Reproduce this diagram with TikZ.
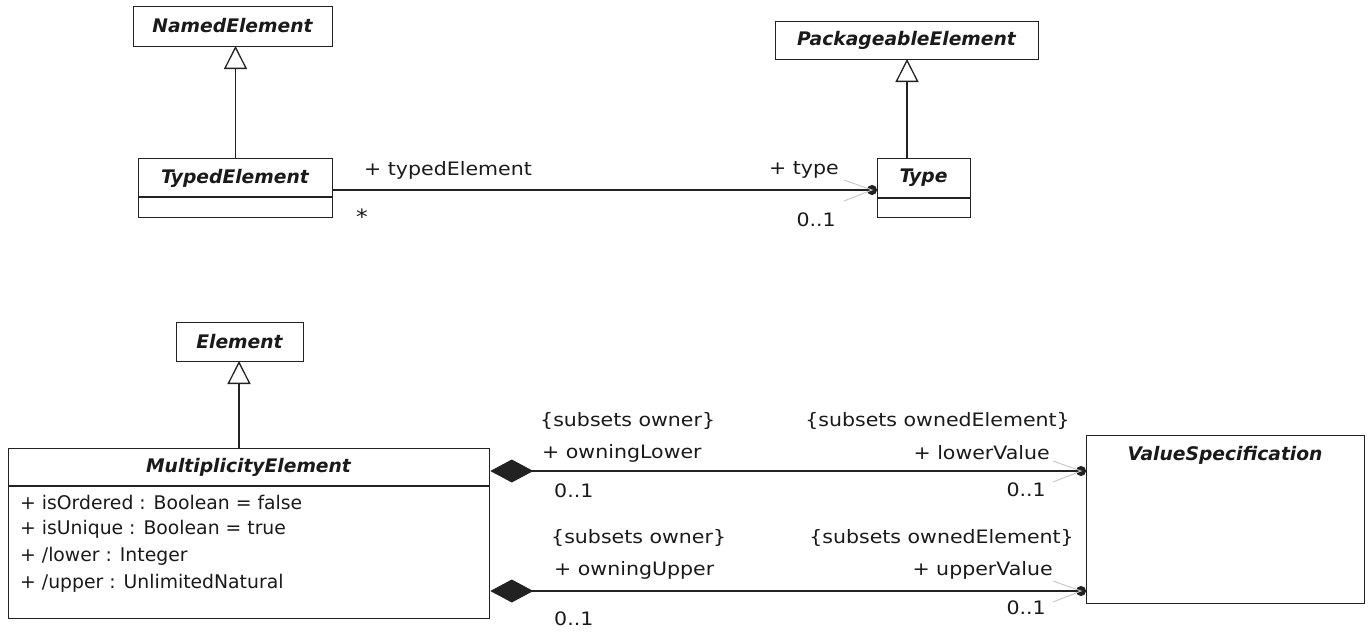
\documentclass[tikz,border=0pt]{standalone}
\usepackage{fontspec}
\setmainfont{DejaVu Sans}
\newfontfamily\lblfont{DejaVu Sans}[FakeStretch=1.11]
\usetikzlibrary{arrows.meta,calc}
\definecolor{linec}{HTML}{222222}
\definecolor{navc}{HTML}{C4C4C4}
\definecolor{txtc}{HTML}{1A1A1A}
\begin{document}
\begin{tikzpicture}[x=1pt,y=-1pt,
  cls/.style={draw=linec,line width=1.3pt,inner sep=0pt,anchor=north west},
  cname/.style={inner sep=0pt,text=txtc,font=\fontsize{18.7}{22}\selectfont\bfseries\itshape},
  lbl/.style={inner sep=0pt,text=txtc,font=\lblfont\fontsize{18.5}{22}\selectfont},
  attr/.style={inner sep=0pt,text=txtc,anchor=west,font=\fontsize{18.8}{22}\selectfont},
  gen/.style={draw=linec,line width=1.5pt,-{Triangle[open,length=23pt,width=23pt,line width=1.3pt]}},
  assoc/.style={draw=linec,line width=1.3pt},
  nav/.style={draw=navc,line width=0.9pt},
]
\useasboundingbox (0,0) rectangle (1370,632);
% classes
\node[cls,minimum width=199pt,minimum height=40pt] (named) at (133,6) {};
\node[cname] (namedt) at (232.5,26) {NamedElement};
\node[cls,minimum width=194pt,minimum height=59pt] (typed) at (138,158) {};
\node[cname] (typedt) at (235,178) {TypedElement};
\node[cls,minimum width=263pt,minimum height=38pt] (pack) at (775,21) {};
\node[cname] (packt) at (906.5,40) {PackageableElement};
\node[cls,minimum width=93pt,minimum height=59pt] (type) at (877,158) {};
\node[cname] (typet) at (923.5,178) {Type};
\node[cls,minimum width=127pt,minimum height=39pt] (elem) at (176,322) {};
\node[cname] (elemt) at (239.5,341.5) {Element};
\node[cls,minimum width=481pt,minimum height=170pt] (mult) at (8,448) {};
\node[cname] (multt) at (248.5,467) {MultiplicityElement};
\node[cls,minimum width=278pt,minimum height=168pt] (vspec) at (1086,435) {};
\node[cname] (vspect) at (1225,455) {ValueSpecification};
% dividers
\coordinate (d1) at (0,197);
\coordinate (d2) at (0,198);
\coordinate (d3) at (0,486);
\draw[assoc] (typed.west |- d1) -- (typed.east |- d1);
\draw[assoc] (type.west |- d2) -- (type.east |- d2);
\draw[assoc] (mult.west |- d3) -- (mult.east |- d3);
% attributes
\node[attr] (a1) at (20,502) {+ isOrdered : Boolean = false};
\node[attr] (a2) at (20,529) {+ isUnique : Boolean = true};
\node[attr] (a3) at (20,556) {+ /lower : Integer};
\node[attr] (a4) at (20,583) {+ /upper : UnlimitedNatural};
% generalizations
\draw[gen] (typed.north -| 235.5,0) -- (235.5,46);
\draw[gen] (type.north -| 907,0) -- (907,59);
\draw[gen] (mult.north -| 239,0) -- (239,361);
% association TypedElement - Type
\coordinate (y1) at (0,190);
\coordinate (y2) at (0,471);
\coordinate (y3) at (0,591);
\draw[assoc,-{Circle[length=10pt]}] (typed.east |- y1) -- (type.west |- y1);
\draw[nav] ($(type.west |- y1)+(-33,-10)$) -- ($(type.west |- y1)+(-5,0)$) -- ($(type.west |- y1)+(-33,11)$);
\node[lbl,anchor=west] (r1) at (364,170) {+ typedElement};
\node[lbl,anchor=west] (m1) at (356,217) {\fontsize{21}{22}\selectfont *};
\node[lbl,anchor=east] (r2) at (839,170) {+ type};
\node[lbl,anchor=east] (m2) at (836,220) {0..1};
% compositions
\draw[assoc,{Diamond[length=43pt,width=23pt]}-{Circle[length=10pt]}] (mult.east |- y2) -- (vspec.west |- y2);
\draw[nav] ($(vspec.west |- y2)+(-33,-10)$) -- ($(vspec.west |- y2)+(-5,0)$) -- ($(vspec.west |- y2)+(-33,11)$);
\draw[assoc,{Diamond[length=43pt,width=23pt]}-{Circle[length=10pt]}] (mult.east |- y3) -- (vspec.west |- y3);
\draw[nav] ($(vspec.west |- y3)+(-33,-10)$) -- ($(vspec.west |- y3)+(-5,0)$) -- ($(vspec.west |- y3)+(-33,11)$);
\node[lbl,anchor=west] (s1) at (540,421) {\{subsets owner\}};
\node[lbl,anchor=west] (o1) at (542,453) {+ owningLower};
\node[lbl,anchor=west] (m3) at (554,491) {0..1};
\node[lbl,anchor=west] (s2) at (551,538) {\{subsets owner\}};
\node[lbl,anchor=west] (o2) at (554,570) {+ owningUpper};
\node[lbl,anchor=west] (m4) at (554,619) {0..1};
\node[lbl,anchor=east] (s3) at (1070,421) {\{subsets ownedElement\}};
\node[lbl,anchor=east] (v1) at (1050,453) {+ lowerValue};
\node[lbl,anchor=east] (m5) at (1046,490) {0..1};
\node[lbl,anchor=east] (s4) at (1074,538) {\{subsets ownedElement\}};
\node[lbl,anchor=east] (v2) at (1053,570) {+ upperValue};
\node[lbl,anchor=east] (m6) at (1046,608) {0..1};
\end{tikzpicture}
\end{document}
